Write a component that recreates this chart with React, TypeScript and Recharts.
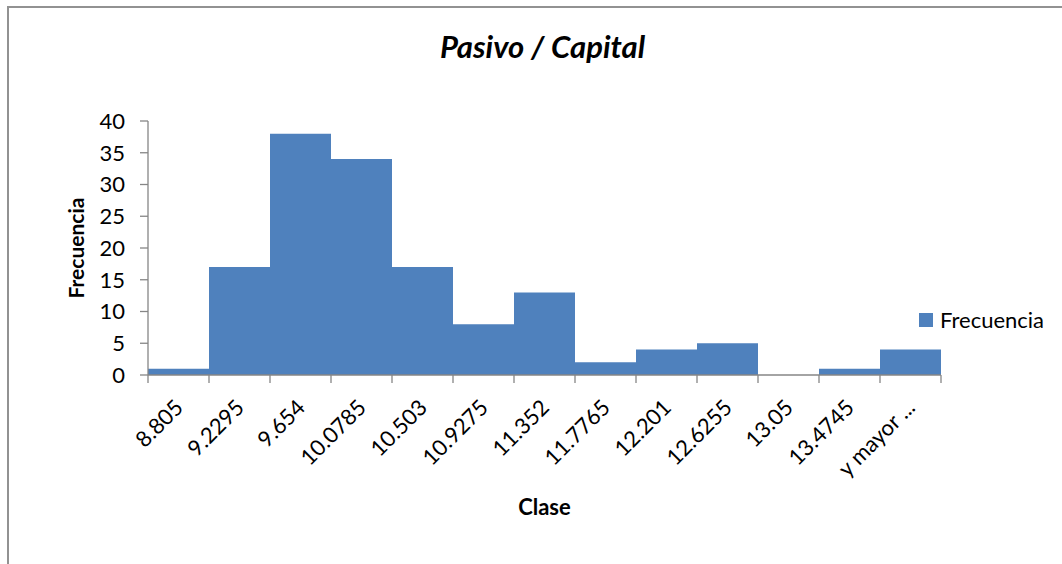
import { BarChart, Bar, XAxis, YAxis, Legend } from 'recharts';

const CLASES = [
  '8.805',
  '9.2295',
  '9.654',
  '10.0785',
  '10.503',
  '10.9275',
  '11.352',
  '11.7765',
  '12.201',
  '12.6255',
  '13.05',
  '13.4745',
  'y mayor ...'
];
const FRECUENCIA = [1, 17, 38, 34, 17, 8, 13, 2, 4, 5, 0, 1, 4];
const Y_TICKS = [0, 5, 10, 15, 20, 25, 30, 35, 40];

const BLUE = '#4F81BD';
const AXIS = '#868686';
const FONT = 'Lato, "Open Sans", sans-serif';

const data = CLASES.map((clase, i) => ({ clase, frecuencia: FRECUENCIA[i] }));

// category ticks: boundary tick marks + rotated label at the bar centre
const ClaseTick = (props: any) => {
  const { x, y, payload, index } = props;
  const half = payload && typeof payload.offset === 'number' && payload.offset > 0 ? payload.offset : 30.5;
  const ty = y + 28;
  return (
    <g>
      <line x1={x - half} y1={y} x2={x - half} y2={y + 8} stroke={AXIS} strokeWidth={1.3} />
      {index === CLASES.length - 1 && (
        <line x1={x + half} y1={y} x2={x + half} y2={y + 8} stroke={AXIS} strokeWidth={1.3} />
      )}
      <text
        x={x}
        y={ty}
        transform={`rotate(-45 ${x} ${ty})`}
        textAnchor="end"
        dominantBaseline="central"
        fill="#000"
        fontSize={22}
        fontFamily={FONT}
      >
        {payload.value}
      </text>
    </g>
  );
};

const LegendContent = () => (
  <div style={{ display: 'flex', alignItems: 'center', fontFamily: FONT, fontSize: 22, color: '#000' }}>
    <span style={{ display: 'inline-block', width: 14, height: 14, background: BLUE, marginRight: 7 }} />
    <span>Frecuencia</span>
  </div>
);

export default function App() {
  return (
    <div
      style={{
        position: 'absolute',
        left: 7,
        top: 6,
        width: 1053,
        height: 556,
        borderLeft: '2px solid #929292',
        borderTop: '2px solid #929292',
        overflow: 'hidden',
        background: '#fff'
      }}
    >
      <div
        style={{
          position: 'absolute',
          left: 0,
          top: 23,
          width: 1067,
          textAlign: 'center',
          fontFamily: FONT,
          fontSize: 31,
          lineHeight: '31px',
          fontWeight: 700,
          fontStyle: 'italic',
          color: '#000'
        }}
      >
        Pasivo / Capital
      </div>
      <BarChart
        width={1053}
        height={556}
        data={data}
        margin={{ top: 113, right: 121, left: 59, bottom: 49 }}
        barCategoryGap={0}
        barGap={0}
      >
        <XAxis
          dataKey="clase"
          interval={0}
          height={140}
          tickSize={0}
          tickMargin={0}
          tickLine={false}
          axisLine={{ stroke: AXIS, strokeWidth: 1.3 }}
          tick={<ClaseTick />}
          label={{
            value: 'Clase',
            position: 'insideBottom',
            offset: 0,
            fill: '#000',
            fontSize: 22,
            fontWeight: 700,
            fontFamily: FONT
          }}
        />
        <YAxis
          width={80}
          domain={[0, 40]}
          ticks={Y_TICKS}
          interval={0}
          tickSize={8}
          tickMargin={15}
          axisLine={{ stroke: AXIS, strokeWidth: 1.3 }}
          tickLine={{ stroke: AXIS, strokeWidth: 1.3 }}
          tick={{ fill: '#000', fontSize: 22, fontFamily: FONT }}
          label={{
            value: 'Frecuencia',
            angle: -90,
            position: 'insideLeft',
            offset: 9,
            fill: '#000',
            fontSize: 21,
            fontWeight: 700,
            fontFamily: FONT,
            style: { textAnchor: 'middle' }
          }}
        />
        <Legend
          layout="horizontal"
          align="center"
          verticalAlign="middle"
          content={<LegendContent />}
          wrapperStyle={{ left: 910, top: 298, width: 150 }}
        />
        <Bar dataKey="frecuencia" name="Frecuencia" fill={BLUE} isAnimationActive={false} />
      </BarChart>
    </div>
  );
}
